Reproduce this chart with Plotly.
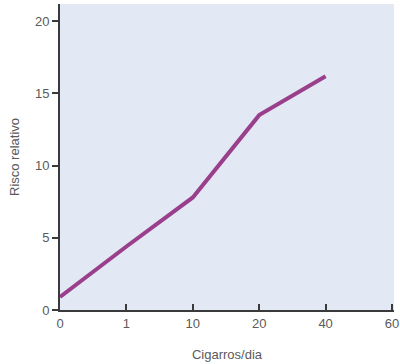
import plotly.graph_objects as go

tick_labels = ["0", "1", "10", "20", "40", "60"]
x_idx = [0, 1, 2, 3, 4]
risk = [0.9, 4.4, 7.8, 13.5, 16.2]
y_ticks = [0, 5, 10, 15, 20]

fig = go.Figure()
fig.add_trace(go.Scatter(
    x=x_idx, y=risk, mode="lines",
    line=dict(color="#9a3f8c", width=4),
    hoverinfo="skip",
))

fig.update_layout(
    width=400, height=364,
    margin=dict(l=60, r=6, t=4, b=54, autoexpand=False),
    paper_bgcolor="white",
    plot_bgcolor="#e2e9f4",
    showlegend=False,
    font=dict(family="Liberation Sans, Arial, sans-serif", size=13, color="#5a5a5a"),
)
fig.update_xaxes(
    range=[0, 5.03], automargin=False,
    tickmode="array", tickvals=list(range(len(tick_labels))), ticktext=tick_labels,
    showgrid=False, zeroline=False,
    showline=True, linecolor="#3a3a3a", linewidth=2,
    ticks="inside", ticklen=6, tickwidth=1.5, tickcolor="#3a3a3a",
    title=dict(text="Cigarros/dia", standoff=20, font=dict(size=13, color="#5a5a5a")),
)
fig.update_yaxes(
    range=[0, 21.2], automargin=False,
    tickmode="array", tickvals=y_ticks,
    showgrid=False, zeroline=False,
    showline=True, linecolor="#3a3a3a", linewidth=2,
    ticks="outside", ticklen=6, tickwidth=1.5, tickcolor="#3a3a3a",
    title=dict(text="Risco relativo", standoff=12, font=dict(size=13, color="#5a5a5a")),
)

fig.write_html("out.html", config={"displayModeBar": False},
               post_script="document.body.style.margin='0px';")
